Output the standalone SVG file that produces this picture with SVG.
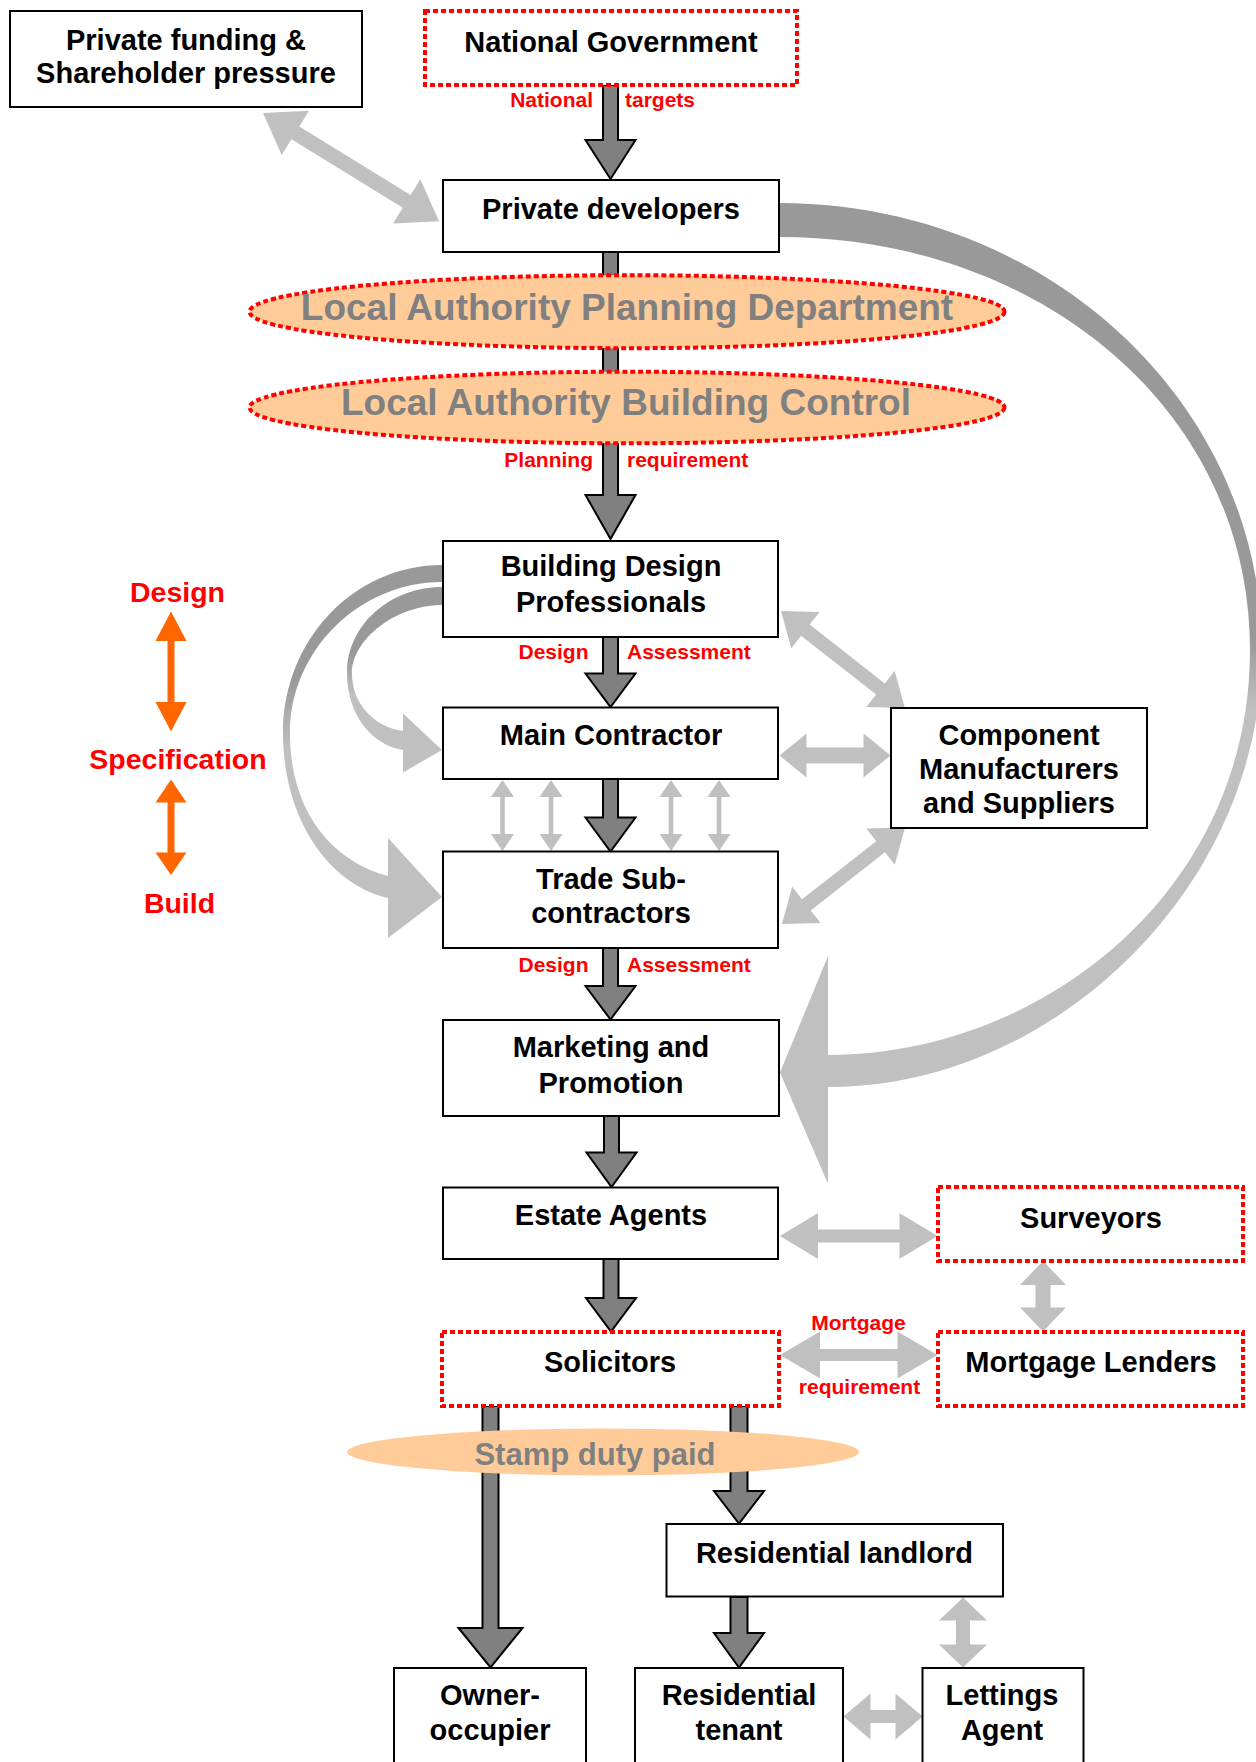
<svg xmlns="http://www.w3.org/2000/svg" width="1256" height="1762" viewBox="0 0 1256 1762">
<style>
.box{fill:#fff;stroke:#000;stroke-width:2}
.dbox{fill:#fff;stroke:#f00;stroke-width:4;stroke-dasharray:5 3}
.ell{fill:#FFCC99;stroke:#f00;stroke-width:4;stroke-dasharray:5 3}
.t{font-family:"Liberation Sans",Arial,sans-serif;font-weight:bold;font-size:29px;text-anchor:middle;fill:#000}
.et{font-family:"Liberation Sans",Arial,sans-serif;font-weight:bold;font-size:37px;text-anchor:middle;fill:#808080}
.lbl{font-family:"Liberation Sans",Arial,sans-serif;font-weight:bold;font-size:21px;fill:#f00}
.side{font-family:"Liberation Sans",Arial,sans-serif;font-weight:bold;font-size:28.5px;text-anchor:middle;fill:#f00}
.dark{fill:#808080;stroke:#000;stroke-width:2;stroke-linejoin:miter}
.light{fill:#C0C0C0}
.orange{fill:#FF6600}
</style>
<defs>
<linearGradient id="gBig" gradientUnits="userSpaceOnUse" x1="0" y1="640" x2="0" y2="710">
<stop offset="0" stop-color="#999999"/><stop offset="1" stop-color="#C0C0C0"/>
</linearGradient>
<linearGradient id="gOuter" gradientUnits="userSpaceOnUse" x1="0" y1="680" x2="0" y2="750">
<stop offset="0" stop-color="#999999"/><stop offset="1" stop-color="#C0C0C0"/>
</linearGradient>
<linearGradient id="gInner" gradientUnits="userSpaceOnUse" x1="0" y1="655" x2="0" y2="695">
<stop offset="0" stop-color="#999999"/><stop offset="1" stop-color="#C0C0C0"/>
</linearGradient>
</defs>
<rect width="1256" height="1762" fill="#fff"/>

<g id="connectors">
<!-- curved arrows -->
<path fill="url(#gBig)" d="M 779,203 C 1046,203 1262,403 1262,650 C 1262,893 1046,1089 828,1087 L 828,1184 L 780,1072.5 L 828,956 L 828,1055 C 1040,1055 1250,893 1250,650 C 1250,410 1040,237 779,237 Z"/>
<path fill="url(#gOuter)" d="M 442,565 C 354,565 283,640 283,733 C 283,820 330,885 388,898 L 388,938 L 442,897 L 388,838 L 388,876 C 335,862 290,815 290,733 C 290,650 360,582 442,582 Z"/>
<path fill="url(#gInner)" d="M 442,587 C 390,587 347,625 347,673 C 347,715 372,745 403,750 L 403,772.5 L 442,750 L 403,713.5 L 403,731 C 375,727 352,705 352,673 C 352,640 395,605 442,605 Z"/>

<!-- dark flow arrows -->
<polygon class="dark" points="603,85 618,85 618,140 635.5,140 610.5,179 585.5,140 603,140"/>
<polygon class="dark" points="603,252 618,252 618,495 635.5,495 610.5,539 585.5,495 603,495"/>
<polygon class="dark" points="603,637 618,637 618,673.5 635.5,673.5 610.5,707 585.5,673.5 603,673.5"/>
<polygon class="dark" points="603,779 618,779 618,817.5 635.5,817.5 610.5,851.5 585.5,817.5 603,817.5"/>
<polygon class="dark" points="603,948 618,948 618,986 635.5,986 610.5,1019.5 585.5,986 603,986"/>
<polygon class="dark" points="604,1116 619,1116 619,1152.5 636.5,1152.5 611.5,1187 586.5,1152.5 604,1152.5"/>
<polygon class="dark" points="603.5,1259 618.5,1259 618.5,1298 636,1298 611,1331.5 586,1298 603.5,1298"/>
<polygon class="dark" points="482.5,1406 498.5,1406 498.5,1628 522.5,1628 490.5,1667.5 458.5,1628 482.5,1628"/>
<polygon class="dark" points="730.5,1406 747.5,1406 747.5,1491 764,1491 739,1523.5 714,1491 730.5,1491"/>
<polygon class="dark" points="730.5,1597 747.5,1597 747.5,1633 764,1633 739,1667.5 714,1633 730.5,1633"/>

<!-- light double arrows -->
<polygon class="light" transform="translate(263,113) rotate(31.6)" points="0,0 38,-26 38,-7.5 168.7,-7.5 168.7,-26 206.7,0 168.7,26 168.7,7.5 38,7.5 38,26"/>
<polygon class="light" transform="translate(781,611) rotate(38.1)" points="0,0 31,-23 31,-7 126.4,-7 126.4,-23 157.4,0 126.4,23 126.4,7 31,7 31,23"/>
<polygon class="light" transform="translate(779.5,755.5)" points="0,0 27,-22 27,-8 84,-8 84,-22 111,0 84,22 84,8 27,8 27,22"/>
<polygon class="light" transform="translate(782,924) rotate(-38.1)" points="0,0 31,-23 31,-7 125.3,-7 125.3,-23 156.3,0 125.3,23 125.3,7 31,7 31,23"/>
<polygon class="light" transform="translate(780,1236)" points="0,0 38,-23 38,-6.5 119.5,-6.5 119.5,-23 157.5,0 119.5,23 119.5,6.5 38,6.5 38,23"/>
<polygon class="light" transform="translate(780,1355)" points="0,0 40,-23.5 40,-6 117.5,-6 117.5,-23.5 157.5,0 117.5,23.5 117.5,6 40,6 40,23.5"/>
<polygon class="light" transform="translate(1043,1261) rotate(90)" points="0,0 24,-23 24,-7.5 46.5,-7.5 46.5,-23 70.5,0 46.5,23 46.5,7.5 24,7.5 24,23"/>
<polygon class="light" transform="translate(963,1597.5) rotate(90)" points="0,0 23,-24 23,-7 47,-7 47,-24 70,0 47,24 47,7 23,7 23,24"/>
<polygon class="light" transform="translate(843.5,1716.5)" points="0,0 27,-23 27,-6.5 52,-6.5 52,-23 79,0 52,23 52,6.5 27,6.5 27,23"/>
<polygon class="light" transform="translate(502.5,780) rotate(90)" points="0,0 17,-11.5 17,-2.3 54,-2.3 54,-11.5 71,0 54,11.5 54,2.3 17,2.3 17,11.5"/>
<polygon class="light" transform="translate(551,780) rotate(90)" points="0,0 17,-11.5 17,-2.3 54,-2.3 54,-11.5 71,0 54,11.5 54,2.3 17,2.3 17,11.5"/>
<polygon class="light" transform="translate(671,780) rotate(90)" points="0,0 17,-11.5 17,-2.3 54,-2.3 54,-11.5 71,0 54,11.5 54,2.3 17,2.3 17,11.5"/>
<polygon class="light" transform="translate(719,780) rotate(90)" points="0,0 17,-11.5 17,-2.3 54,-2.3 54,-11.5 71,0 54,11.5 54,2.3 17,2.3 17,11.5"/>

<!-- orange scale arrows -->
<polygon class="orange" transform="translate(171,611.5) rotate(90)" points="0,0 29.5,-15.5 29.5,-3.5 90.5,-3.5 90.5,-15.5 120,0 90.5,15.5 90.5,3.5 29.5,3.5 29.5,15.5"/>
<polygon class="orange" transform="translate(171,779.5) rotate(90)" points="0,0 23,-15.5 23,-3.5 73,-3.5 73,-15.5 95.5,0 73,15.5 73,3.5 23,3.5 23,15.5"/>

<!-- connector labels -->
<text class="lbl" x="593" y="106.5" text-anchor="end">National</text>
<text class="lbl" x="625" y="106.5">targets</text>
<text class="lbl" x="593" y="466.5" text-anchor="end">Planning</text>
<text class="lbl" x="627" y="466.5">requirement</text>
<text class="lbl" x="588.5" y="658.5" text-anchor="end">Design</text>
<text class="lbl" x="627" y="658.5">Assessment</text>
<text class="lbl" x="588.5" y="971.5" text-anchor="end">Design</text>
<text class="lbl" x="627" y="971.5">Assessment</text>
<text class="lbl" x="858.5" y="1330" text-anchor="middle">Mortgage</text>
<text class="lbl" x="859.5" y="1394" text-anchor="middle">requirement</text>
</g>

<g id="scale-labels">
<text class="side" x="177.5" y="601.5">Design</text>
<text class="side" x="178" y="769">Specification</text>
<text class="side" x="179.5" y="913">Build</text>
</g>

<g id="private-funding"><rect class="box" x="10" y="11" width="352" height="96"/><text class="t" x="186" y="50">Private funding &amp;</text><text class="t" x="186" y="83">Shareholder pressure</text></g>
<g id="national-government"><rect class="dbox" x="425" y="11" width="372" height="74"/><text class="t" x="611" y="51.5">National Government</text></g>
<g id="private-developers"><rect class="box" x="443" y="180" width="336" height="72"/><text class="t" x="611" y="219">Private developers</text></g>
<g id="la-planning"><ellipse class="ell" cx="627" cy="311.7" rx="377.5" ry="36.5"/><text class="et" x="627" y="320">Local Authority Planning Department</text></g>
<g id="la-building-control"><ellipse class="ell" cx="627" cy="407.5" rx="377.5" ry="35.8"/><text class="et" x="626" y="415">Local Authority Building Control</text></g>
<g id="building-design"><rect class="box" x="443" y="541" width="335" height="96"/><text class="t" x="611" y="576">Building Design</text><text class="t" x="611" y="611.5">Professionals</text></g>
<g id="main-contractor"><rect class="box" x="443" y="707.5" width="335" height="71.5"/><text class="t" x="611" y="745">Main Contractor</text></g>
<g id="component"><rect class="box" x="891" y="708" width="256" height="120"/><text class="t" x="1019" y="745">Component</text><text class="t" x="1019" y="779">Manufacturers</text><text class="t" x="1019" y="813">and Suppliers</text></g>
<g id="trade"><rect class="box" x="443" y="851.5" width="335" height="96.5"/><text class="t" x="611" y="889">Trade Sub-</text><text class="t" x="611" y="923">contractors</text></g>
<g id="marketing"><rect class="box" x="443" y="1020" width="336" height="96"/><text class="t" x="611" y="1056.5">Marketing and</text><text class="t" x="611" y="1092.5">Promotion</text></g>
<g id="estate-agents"><rect class="box" x="443" y="1187.5" width="335" height="71.5"/><text class="t" x="611" y="1225">Estate Agents</text></g>
<g id="surveyors"><rect class="dbox" x="938" y="1187" width="305" height="74"/><text class="t" x="1091" y="1228">Surveyors</text></g>
<g id="solicitors"><rect class="dbox" x="442" y="1332" width="337" height="74"/><text class="t" x="610" y="1371.5">Solicitors</text></g>
<g id="mortgage-lenders"><rect class="dbox" x="938" y="1332" width="305" height="74"/><text class="t" x="1091" y="1371.5">Mortgage Lenders</text></g>
<g id="stamp-duty"><ellipse cx="603" cy="1452" rx="256" ry="23.5" fill="#FFCC99"/><text class="et" x="595" y="1465" style="font-size:31px">Stamp duty paid</text></g>
<g id="residential-landlord"><rect class="box" x="666.5" y="1524" width="336.5" height="72.5"/><text class="t" x="834.5" y="1563">Residential landlord</text></g>
<g id="owner-occupier"><rect class="box" x="394" y="1668" width="192" height="110"/><text class="t" x="490" y="1705">Owner-</text><text class="t" x="490" y="1740">occupier</text></g>
<g id="residential-tenant"><rect class="box" x="635" y="1668" width="208" height="110"/><text class="t" x="739" y="1705">Residential</text><text class="t" x="739" y="1740">tenant</text></g>
<g id="lettings-agent"><rect class="box" x="922.5" y="1668" width="161" height="110"/><text class="t" x="1002" y="1705">Lettings</text><text class="t" x="1002" y="1740">Agent</text></g>
</svg>
